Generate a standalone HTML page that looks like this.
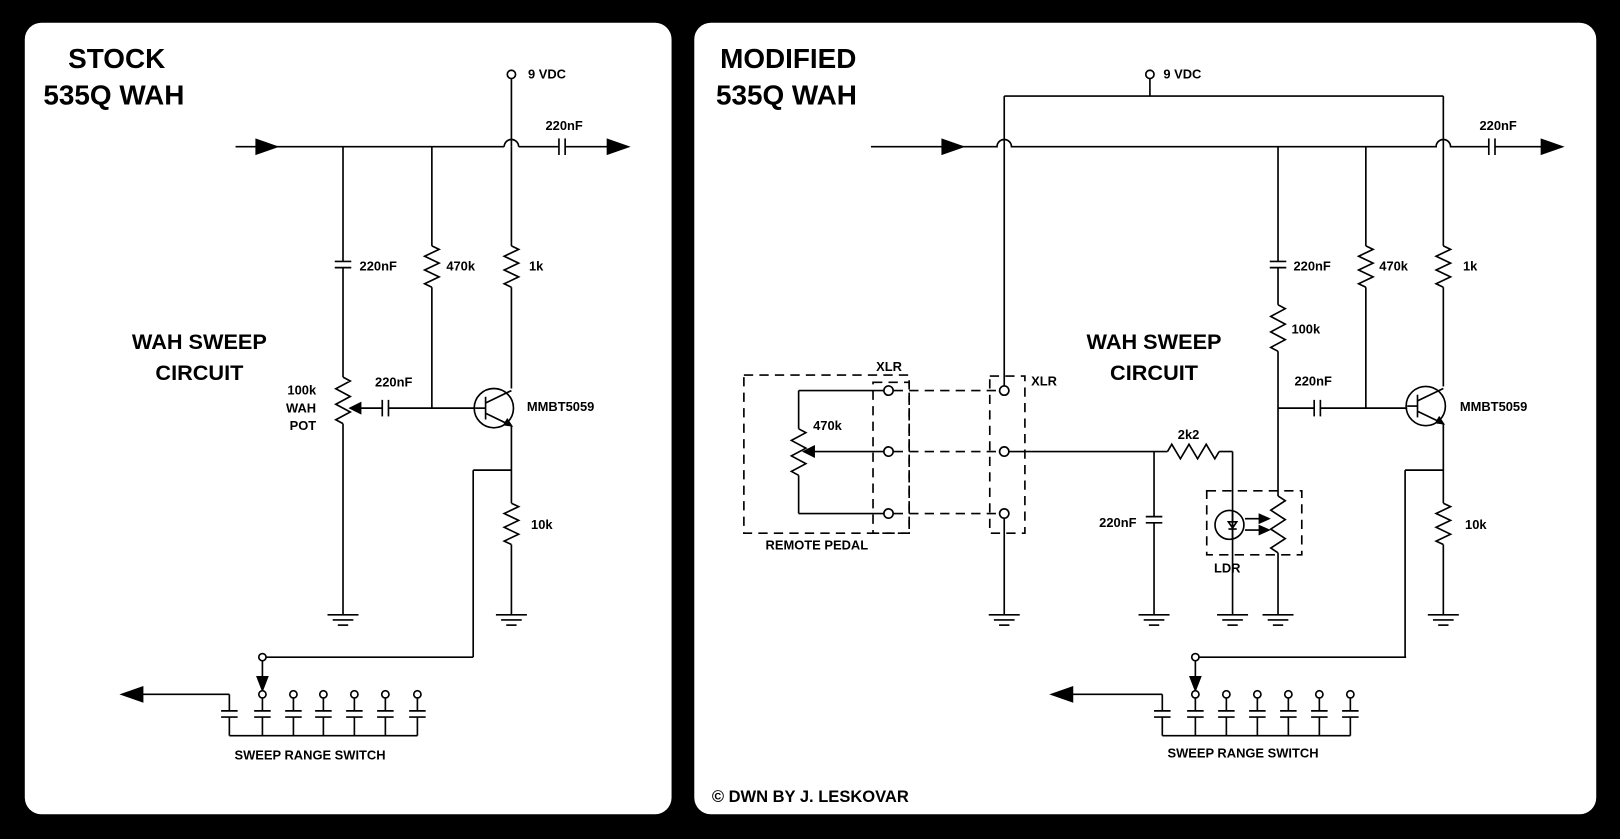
<!DOCTYPE html>
<html><head><meta charset="utf-8"><style>
html,body{margin:0;padding:0;background:#000;}
svg{display:block}
text{font-family:"Liberation Sans",Arial,sans-serif;font-weight:bold;fill:#000}
</style></head><body>
<svg id="s" width="1620" height="839" viewBox="0 0 1568 812" preserveAspectRatio="none" xmlns="http://www.w3.org/2000/svg">
<rect x="0" y="0" width="1568" height="812" fill="#000"/>
<rect x="24" y="22" width="626" height="766" rx="16" fill="#fff"/>
<rect x="672" y="22" width="873" height="766" rx="16" fill="#fff"/>
<g id="g" stroke="#000" stroke-width="1.6" fill="none"></g>
<g font-size="27">
<text x="66" y="66">STOCK</text><text x="42" y="101">535Q WAH</text>
<text x="697" y="66">MODIFIED</text><text x="693" y="101">535Q WAH</text>
</g>
<g font-size="21" text-anchor="middle">
<text x="193" y="338">WAH SWEEP</text><text x="193" y="368">CIRCUIT</text>
<text x="1117" y="338">WAH SWEEP</text><text x="1117" y="368">CIRCUIT</text>
</g>
<g font-size="12.5">
<text x="511" y="76">9 VDC</text><text x="1126" y="76">9 VDC</text>
<text x="528" y="126">220nF</text><text x="1432" y="126">220nF</text>
<text x="348" y="262">220nF</text><text x="432" y="262">470k</text><text x="512" y="262">1k</text>
<text x="363" y="374">220nF</text><text x="510" y="398">MMBT5059</text><text x="514" y="512">10k</text>
<text x="306" y="382" text-anchor="end">100k</text><text x="306" y="399" text-anchor="end">WAH</text><text x="306" y="416" text-anchor="end">POT</text>
<text x="1252" y="262">220nF</text><text x="1335" y="262">470k</text><text x="1416" y="262">1k</text>
<text x="1250" y="323">100k</text><text x="1253" y="373">220nF</text><text x="1413" y="398">MMBT5059</text>
<text x="1418" y="512">10k</text><text x="1140" y="425">2k2</text><text x="1100" y="510" text-anchor="end">220nF</text>
<text x="1175" y="554">LDR</text><text x="848" y="359">XLR</text><text x="998" y="373">XLR</text>
<text x="787" y="416">470k</text><text x="741" y="532">REMOTE PEDAL</text>
<text x="227" y="735">SWEEP RANGE SWITCH</text><text x="1130" y="733">SWEEP RANGE SWITCH</text>
</g>
<text x="689" y="776" font-size="16">© DWN BY J. LESKOVAR</text>
</svg>
<script>
var g=document.getElementById('g'),NS='http://www.w3.org/2000/svg';
function el(t,a){var e=document.createElementNS(NS,t);for(var k in a)e.setAttribute(k,a[k]);g.appendChild(e);return e;}
function P(d,ex){var a={d:d};if(ex)for(var k in ex)a[k]=ex[k];return el('path',a);}
function L(x1,y1,x2,y2,dash){P('M'+x1+' '+y1+'L'+x2+' '+y2,dash?{'stroke-dasharray':'9 6'}:null);}
function vres(x,y1,y2){var n=6,h=(y2-y1)/n,d='M'+x+' '+y1;for(var i=0;i<n;i++){d+='L'+(x+(i%2?-7:7))+' '+(y1+h*(i+0.5));}d+='L'+x+' '+y2;P(d);}
function hres(y,x1,x2){var n=6,w=(x2-x1)/n,d='M'+x1+' '+y;for(var i=0;i<n;i++){d+='L'+(x1+w*(i+0.5))+' '+(y+(i%2?7:-7));}d+='L'+x2+' '+y;P(d);}
function vcap(x,y){L(x-8,y-3,x+8,y-3);L(x-8,y+3,x+8,y+3);}
function hcap(x,y){L(x-3,y-8,x-3,y+8);L(x+3,y-8,x+3,y+8);}
function gnd(x,y){L(x-15,y,x+15,y);L(x-10,y+5,x+10,y+5);L(x-5,y+10,x+5,y+10);}
function C(x,y,r){el('circle',{cx:x,cy:y,r:r||3.5,fill:'#fff'});}
function arr(x,y,dir){var d;if(dir=='r')d='M'+x+' '+y+'l-20 -7l0 14z';else if(dir=='l')d='M'+x+' '+y+'l20 -7l0 14z';else d='M'+x+' '+y+'l-5 -13l10 0z';P(d,{fill:'#000'});}
function hopLine(y,x1,x2,hops){var d='M'+x1+' '+y;hops.forEach(function(h){d+='L'+(h-7)+' '+y+'A7 7 0 0 1 '+(h+7)+' '+y;});d+='L'+x2+' '+y;P(d);}
function trans(cx,cy,xc){el('circle',{cx:cx,cy:cy,r:19});L(cx-8,cy-11,cx-8,cy+11);L(cx-18,cy,cx-8,cy);L(cx-8,cy-5,xc,cy-17);L(cx-8,cy+5,xc,cy+17);P('M'+xc+' '+(cy+17)+'l-7 -1l3 -5z',{fill:'#000'});}
function sw(x0,xs,xOut){
 L(xs[0],636,xs[0]+204,636);
 C(xs[0],636,3.5);
 L(xs[0],640,xs[0],660);arr(xs[0],668,'d');
 var caps=[x0].concat(xs);
 caps.forEach(function(x){L(x,672,x,688);vcap(x,691);L(x,694,x,712);});
 L(x0,712,xs[xs.length-1],712);
 L(x0,672,xOut+20,672);arr(xOut,672,'l');
 xs.forEach(function(x){C(x,672,3.5);});
}
/* LEFT */
C(495,72,4);L(495,76,495,142);
L(248,142,488,142);arr(268,142,'r');L(228,142,250,142);
P('M488 142A7 7 0 0 1 502 142');L(502,142,541,142);hcap(544,142);L(547,142,590,142);arr(608,142,'r');
L(495,142,495,238);vres(495,238,278);L(495,278,495,376);
trans(478,395,495);L(495,412,495,487);vres(495,487,527);L(495,527,495,595);gnd(495,595);
L(332,142,332,253);vcap(332,256);L(332,259,332,365);vres(332,365,410);L(332,410,332,595);gnd(332,595);
L(418,142,418,238);vres(418,238,278);L(418,278,418,395);
P('M339 395l10 -5l0 10z',{fill:'#000'});L(349,395,370,395);hcap(373,395);L(376,395,460,395);
L(495,455,458,455);L(458,455,458,636);
sw(222,[254,284,313,343,373,404],118);
/* RIGHT */
C(1113,72,4);L(1113,76,1113,93);L(972,93,1397,93);L(972,93,972,374);L(1397,93,1397,238);
L(843,142,914,142);arr(932,142,'r');
hopLine(142,912,1441,[972,1397]);
hcap(1444,142);L(1447,142,1492,142);arr(1512,142,'r');
vres(1397,238,278);L(1397,278,1397,374);trans(1380,393,1397);L(1397,410,1397,487);vres(1397,487,527);L(1397,527,1397,595);gnd(1397,595);
L(1237,142,1237,253);vcap(1237,256);L(1237,259,1237,295);vres(1237,295,340);L(1237,340,1237,480);vres(1237,480,535);L(1237,535,1237,595);gnd(1237,595);
L(1237,395,1272,395);hcap(1275,395);L(1278,395,1362,395);
L(1322,142,1322,238);vres(1322,238,278);L(1322,278,1322,395);
L(1397,455,1360,455);L(1360,455,1360,636);
sw(1125,[1157,1187,1217,1247,1277,1307],1018);
/* XLR */
P('M720 363H880V516H720Z',{'stroke-dasharray':'9 6'});
P('M845 370H880V516H845Z',{'stroke-dasharray':'9 6'});
P('M958 364H992V516H958Z',{'stroke-dasharray':'9 6'});
[378,437,497].forEach(function(y){L(865,y,968,y,1);});
L(856,378,773,378);L(773,378,773,415);vres(773,415,460);L(773,460,773,497);L(773,497,856,497);
L(856,437,788,437);P('M778 437l10 -5l0 10z',{fill:'#000'});
L(976,437,1130,437);hres(437,1130,1180);L(1180,437,1193,437);L(1193,437,1193,595);gnd(1193,595);
L(1117,437,1117,500);vcap(1117,503);L(1117,506,1117,595);gnd(1117,595);
L(972,501,972,595);gnd(972,595);
[378,437,497].forEach(function(y){C(860,y,4.5);C(972,y,4.5);});
P('M1168 475H1260V537H1168Z',{'stroke-dasharray':'9 6'});
el('circle',{cx:1190,cy:508,r:14});L(1193,494,1193,522);P('M1189 505h8l-4 6z');L(1189,512,1197,512);
L(1205,502,1220,502);P('M1228 502l-9 -4l0 8z',{fill:'#000'});L(1205,513,1220,513);P('M1228 513l-9 -4l0 8z',{fill:'#000'});
</script>
</body></html>
